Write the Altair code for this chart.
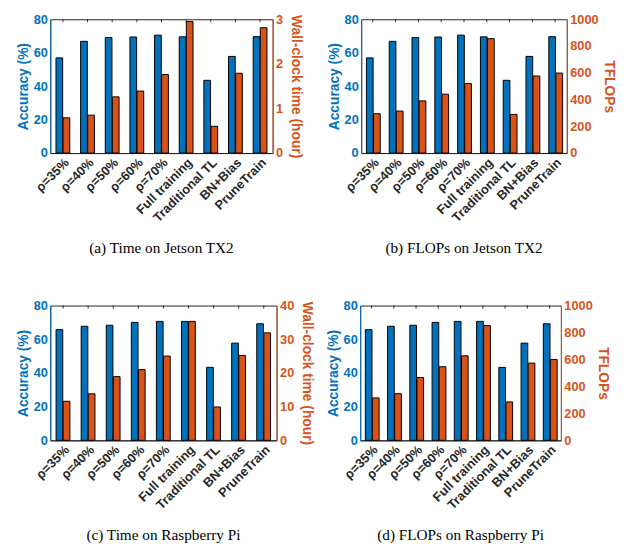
import altair as alt
import pandas as pd

BLUE = "#0072BD"
ORANGE = "#D95319"
DARK = "#262626"

categories = ["ρ=35%", "ρ=40%", "ρ=50%", "ρ=60%", "ρ=70%",
              "Full training", "Traditional TL", "BN+Bias", "PruneTrain"]

acc_tx2 = [56.9, 66.8, 69.1, 69.4, 70.5, 69.5, 43.5, 57.8, 69.6]
time_tx2 = [0.79, 0.85, 1.26, 1.39, 1.76, 2.95, 0.60, 1.79, 2.81]
flops_tx2 = [294, 314, 390, 440, 520, 855, 289, 576, 598]

acc_pi = [65.7, 67.7, 68.3, 70.0, 70.6, 70.6, 43.3, 57.7, 69.2]
time_pi = [11.6, 13.8, 18.9, 21.0, 25.0, 35.3, 9.9, 25.2, 31.9]
flops_pi = [315, 346, 466, 546, 627, 851, 285, 573, 600]

captions = ["(a)  Time on Jetson TX2", "(b)  FLOPs on Jetson TX2",
            "(c)  Time on Raspberry Pi", "(d)  FLOPs on Raspberry Pi"]

FONT = "Liberation Sans"


def panel(acc, other, right_title, right_max, right_ticks, width, height, caption,
          right_title_pad=6):
    df = pd.DataFrame({"cat": categories, "acc": acc, "other": other,
                       "s1": ["a"] * len(categories), "s2": ["b"] * len(categories)})
    xenc = alt.X("cat:N", sort=categories,
                 scale=alt.Scale(paddingInner=0.44, paddingOuter=0.23),
                 axis=alt.Axis(title=None, labelAngle=-45, labelFont=FONT,
                               labelFontSize=13, labelFontWeight="bold",
                               labelColor=DARK, ticks=False, domainColor=DARK,
                               labelPadding=3))
    offscale = alt.Scale(domain=["a", "b"], paddingInner=0.06)
    base = alt.Chart(df)
    blue = base.mark_bar(color=BLUE, stroke="black", strokeWidth=1).encode(
        x=xenc,
        xOffset=alt.XOffset("s1:N", scale=offscale),
        y=alt.Y("acc:Q", scale=alt.Scale(domain=[0, 80], nice=False),
                axis=alt.Axis(orient="left", values=[0, 20, 40, 60, 80],
                              title="Accuracy (%)", titleColor=BLUE,
                              titleFont=FONT, titleFontSize=14, titleFontWeight="bold",
                              labelColor=BLUE, labelFont=FONT, labelFontSize=13,
                              labelFontWeight="bold", domainColor=BLUE,
                              ticks=False, grid=False, labelPadding=3,
                              titlePadding=3)),
    )
    orange = base.mark_bar(color=ORANGE, stroke="black", strokeWidth=1).encode(
        x=alt.X("cat:N", sort=categories),
        xOffset=alt.XOffset("s2:N", scale=offscale),
        y=alt.Y("other:Q", scale=alt.Scale(domain=[0, right_max], nice=False),
                axis=alt.Axis(orient="right", values=right_ticks, format="d",
                              title=right_title, titleColor=ORANGE,
                              titleFont=FONT, titleFontSize=14, titleFontWeight="bold",
                              labelColor=ORANGE, labelFont=FONT, labelFontSize=13,
                              labelFontWeight="bold", domainColor=ORANGE,
                              ticks=False, grid=False, labelPadding=3,
                              titlePadding=right_title_pad)),
    )
    topticks = base.mark_rule(color=DARK, strokeWidth=1).encode(
        x=alt.X("cat:N", sort=categories),
        y=alt.value(0), y2=alt.value(3),
    )
    return alt.layer(blue, orange, topticks).resolve_scale(y="independent").properties(
        width=width, height=height,
        title=alt.TitleParams(caption, orient="bottom", anchor="middle",
                              font="Liberation Serif", fontSize=15.5,
                              fontWeight="normal", color="black", offset=17),
    )


pa = panel(acc_tx2, time_tx2, "Wall-clock time (hour)", 3, [0, 1, 2, 3], 226, 136, captions[0])
pb = panel(acc_tx2, flops_tx2, "TFLOPs", 1000, [0, 200, 400, 600, 800, 1000], 209, 136,
           captions[1], right_title_pad=3)
pc = panel(acc_pi, time_pi, "Wall-clock time (hour)", 40, [0, 10, 20, 30, 40], 230, 137, captions[2])
pd_ = panel(acc_pi, flops_pi, "TFLOPs", 1000, [0, 200, 400, 600, 800, 1000], 204, 137,
            captions[3], right_title_pad=3)

row1 = alt.hconcat(pa, pb, spacing=24)
row2 = alt.hconcat(pc, pd_, spacing=12).properties(
    title=alt.TitleParams(" ", orient="left", fontSize=1, offset=7)
)

chart = alt.vconcat(row1, row2, spacing=42).properties(
    padding=0
).configure_view(stroke=DARK, strokeWidth=1)

chart.save("out.html", embed_options={"renderer": "svg", "actions": False})
